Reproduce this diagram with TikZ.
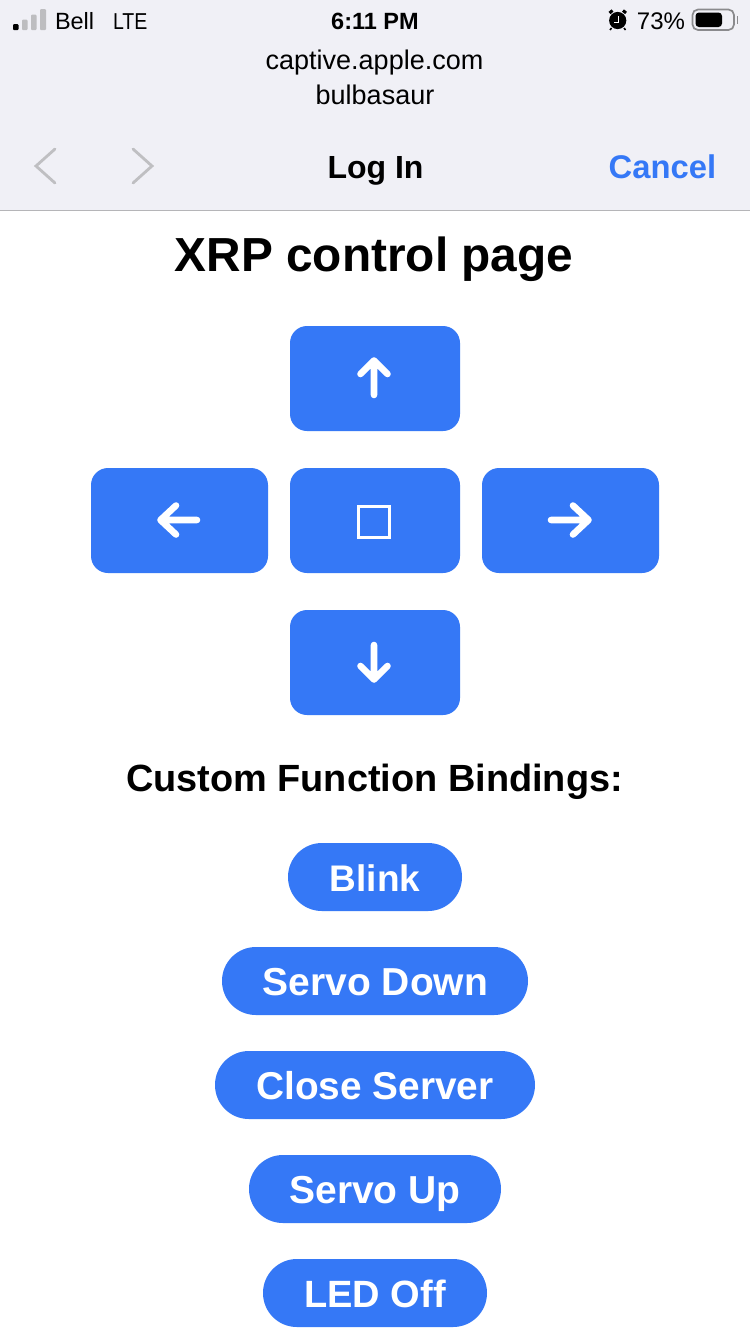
\documentclass[tikz,border=0pt]{standalone}
\usepackage{fontspec}
\setmainfont{Liberation Sans}
\definecolor{hdr}{HTML}{F0F0F6}
\definecolor{hline}{HTML}{B5B5B8}
\definecolor{btn}{HTML}{3578F6}
\definecolor{chev}{HTML}{BFBFC2}
\definecolor{bar}{HTML}{BDBDC0}
\definecolor{batt}{HTML}{8A8A8D}
\tikzset{
  txt/.style={inner sep=0pt,outer sep=0pt,anchor=base},
  padbtn/.style={fill=btn,rounded corners=17pt,inner sep=0pt,minimum height=105pt},
  pill/.style={fill=btn,rounded corners=33.9pt,inner sep=0pt,minimum height=68pt},
  glyph/.style={draw=white,line width=6.6pt,line cap=round,line join=round},
  chevron/.style={draw=chev,line width=2.8pt,line cap=round,line join=miter},
  pilltxt/.style={txt,text=white},
}
\newcommand{\fsz}[1]{\fontsize{#1}{#1}\selectfont}
\begin{document}
\begin{tikzpicture}[x=1pt,y=-1pt]
\useasboundingbox (0,0) rectangle (750,1334);
\fill[white] (0,0) rectangle (750,1334);
\fill[hdr] (0,0) rectangle (750,210);
\draw[hline,line width=1.2pt] (0,210.5) -- (750,210.5);
% signal bars
\fill[black,rounded corners=1pt] (13,24) rectangle (18.5,30);
\fill[bar,rounded corners=1pt] (22,19.5) rectangle (27.5,30);
\fill[bar,rounded corners=1pt] (31,14.5) rectangle (36.5,30);
\fill[bar,rounded corners=1pt] (40,9) rectangle (46,30);
\node[txt,anchor=base west,font=\fsz{23.5}] (carrier) at (55,29) {Bell};
\node[txt,anchor=base west,font=\fsz{23}] (net) at (113,29) {\scalebox{0.85}[1]{LTE}};
\node[txt,font=\fsz{23.5}\bfseries] (time) at (375,29) {6:11 PM};
\node[txt,font=\fsz{27}] (host) at (374.5,69) {captive.apple.com};
\node[txt,font=\fsz{27}] (ssid) at (375,104) {bulbasaur};
\node[txt,font=\fsz{32}\bfseries] (login) at (375.5,178) {Log In};
\node[txt,text=btn,font=\fsz{32.8}\bfseries] (cancel) at (662.5,178) {Cancel};
\draw[chevron] (55,149) -- (36,166) -- (55,183);
\draw[chevron] (133,149) -- (152,166) -- (133,183);
% alarm
\fill[black] (617.7,20.5) circle (8.6pt);
\draw[black,line width=3pt] (609.5,13) -- (612.5,10.5);
\draw[black,line width=3pt] (626,13) -- (623,10.5);
\draw[black,line width=1.6pt] (611.5,28) -- (610,30);
\draw[black,line width=1.6pt] (624,28) -- (625.5,30);
\draw[white,line width=1pt] (618,16) -- (618,22) -- (614,22);
\node[txt,anchor=base east,font=\fsz{24}] (pct) at (685,29) {73\%};
% battery
\draw[batt,line width=1.7pt,rounded corners=5.5pt] (692.5,9.5) rectangle (734,30);
\fill[black,rounded corners=3.5pt] (695.5,12.5) rectangle (722,27);
\fill[batt] (737,15.5) rectangle (738,24);
% title
\node[txt,font=\fsz{47.8}\bfseries] (title) at (374,271.5) {XRP control page};
% d-pad
\node[padbtn,minimum width=170pt] (up) at (375,378.5) {};
\node[padbtn,minimum width=177pt] (left) at (179.5,520.5) {};
\node[padbtn,minimum width=170pt] (stop) at (375,520.5) {};
\node[padbtn,minimum width=177pt] (right) at (570.5,520.5) {};
\node[padbtn,minimum width=170pt] (down) at (375,662.5) {};
\draw[glyph] (374,395) -- (374,361) (360.5,374) -- (374,360.5) -- (387.5,374);
\draw[glyph] (197,520) -- (161,520) (176,505.5) -- (160.5,520) -- (176,534.5);
\draw[glyph] (551,520) -- (588,520) (573,505.5) -- (588.5,520) -- (573,534.5);
\draw[glyph] (374,645) -- (374,679) (360.5,666) -- (374,679.5) -- (387.5,666);
\draw[white,line width=2.6pt] (358.5,506.5) rectangle (389.5,537.5);
% bindings
\node[txt,font=\fsz{37.9}\bfseries] (bind) at (374.5,791) {Custom Function Bindings:};
\node[pill,minimum width=174pt] (blink) at (375,877) {};
\node[pill,minimum width=306pt] (sdown) at (375,981) {};
\node[pill,minimum width=320pt] (close) at (375,1085) {};
\node[pill,minimum width=252pt] (sup) at (375,1189) {};
\node[pill,minimum width=224pt] (off) at (375,1293) {};
\node[pilltxt,font=\fsz{37}\bfseries] (t1) at (375,891) {Blink};
\node[pilltxt,font=\fsz{39}\bfseries] (t2) at (375.5,995) {Servo Down};
\node[pilltxt,font=\fsz{38.8}\bfseries] (t3) at (375,1099) {Close Server};
\node[pilltxt,font=\fsz{39}\bfseries] (t4) at (375,1203) {Servo Up};
\node[pilltxt,font=\fsz{38}\bfseries] (t5) at (375,1307) {LED Off};
\end{tikzpicture}
\end{document}
